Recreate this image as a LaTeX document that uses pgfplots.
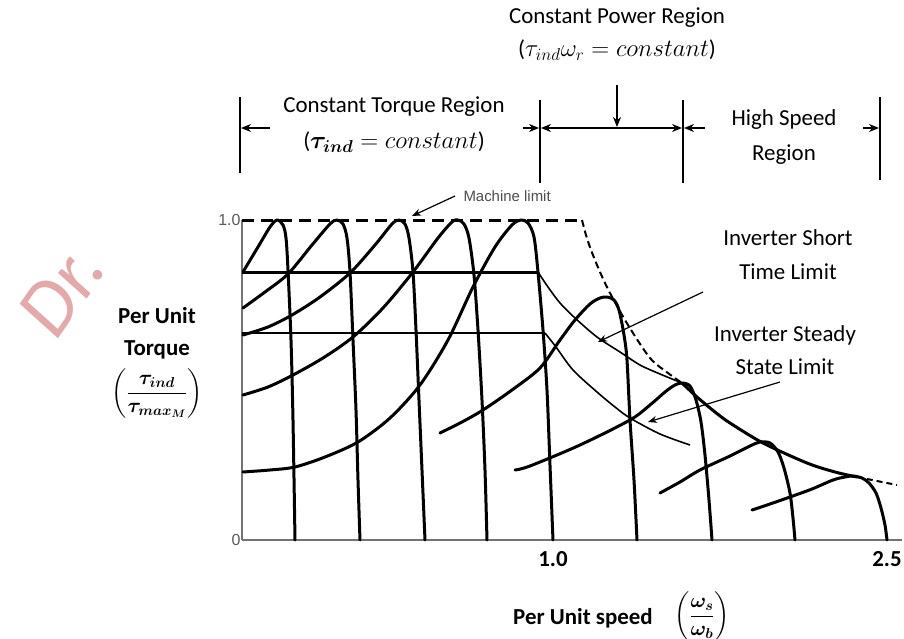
\documentclass[border=0pt]{standalone}
\usepackage{amsmath}
\usepackage{pgfplots}
\pgfplotsset{compat=1.18}
\usepackage{fontspec}
\setmainfont{Carlito}
\newfontfamily\arial{Liberation Sans}
\usetikzlibrary{arrows.meta}

\definecolor{wmark}{RGB}{228,170,170}
\tikzset{
  curve/.style={black, line width=3bp, smooth, tension=0.5, line cap=round, line join=round},
  thin curve/.style={black, line width=1.6bp, smooth, tension=0.5},
  note/.style={font=\fontsize{23}{27}\selectfont},
  arr/.style={line width=1.4bp, -{Stealth[length=10bp,width=8bp]}},
}

\begin{document}
\begin{tikzpicture}
% page = 904 x 639 bp, axis origin sits at pixel (242,540)
\useasboundingbox (-242bp,-99bp) rectangle (662bp,540bp);
\begin{axis}[
    at={(0,0)}, anchor=south west,
    x=1bp, y=1bp,
    xmin=242, xmax=902, ymin=0, ymax=320,
    axis x line*=bottom, axis y line*=left,
    axis line style={-, black!55, line width=1.6bp},
    clip=false,
    xtick={553,887}, xticklabels={1.0,2.5},
    ytick={0,320}, yticklabels={0,1.0},
    major tick length=0pt,
    xticklabel style={font=\fontsize{23}{23}\selectfont\bfseries, yshift=-8bp},
    yticklabel style={font=\arial\fontsize{16}{16}\selectfont, text=black!65, xshift=2bp},
  ]

% machine limit (dashed)
\addplot[black, line width=3bp, dash pattern=on 12bp off 7bp]
  coordinates {(242,320)(582,320)};
\addplot[black, line width=2bp, dash pattern=on 7bp off 4bp, smooth, tension=0.5]
  coordinates {(582,320)(586,305)(591,290)(600,268)(610,247)(628,215)(650,182)(668,167)(682,157)};
\addplot[black, line width=2bp, dash pattern=on 6bp off 4bp]
  coordinates {(857,63)(877,59)(897,55)};

% inverter limits
\addplot[black, line width=3bp] coordinates {(242,268)(538,268)};
\addplot[black, line width=1.6bp] coordinates {(242,207)(545,207)};
\addplot[thin curve] coordinates {(538,268)(548,253)(560,237)(575,222)(597,203)(620,188)(640,175)(660,166)(682,157)};
\addplot[thin curve] coordinates {(545,207)(556,193)(573,170)(597,148)(615,133)(630,122)(660,106)(690,95)};
\addplot[curve] coordinates {(682,157)(697,143)(715,128)(730,117)(763,97)(807,77)(835,68)(857,63)};

% torque-speed curves
\addplot[curve] coordinates {(243,268)(258,293)(270,313)(277,320)(283,315)(286,302)(288,270)(291,200)(293,120)(295,0)};
\addplot[curve] coordinates {(243,232)(265,248)(288,266)(312,295)(330,316)(337,320)(343,316)(347,302)(350,268)(353,200)(356,130)(358,60)(360,0)};
\addplot[curve] coordinates {(243,205)(268,213)(292,225)(320,243)(350,267)(375,295)(392,316)(399,320)(405,316)(409,302)(413,268)(416,210)(419,140)(422,70)(425,0)};
\addplot[curve] coordinates {(243,145)(268,153)(293,165)(323,182)(353,203)(383,232)(413,268)(438,302)(452,318)(458,320)(464,316)(469,302)(474,265)(478,210)(482,140)(485,70)(487,0)};
\addplot[curve] coordinates {(243,68)(270,70)(295,73)(325,83)(358,98)(390,122)(420,155)(448,200)(473,253)(495,293)(512,315)(521,320)(528,317)(534,303)(538,268)(543,210)(547,150)(550,75)(553,0)};
\addplot[curve] coordinates {(440,107)(462,118)(483,130)(512,150)(540,172)(560,200)(575,220)(590,236)(600,242)(607,243)(614,240)(619,230)(624,205)(627,180)(630,120)(634,60)(637,0)};
\addplot[curve] coordinates {(515,70)(530,74)(580,95)(630,120)(650,135)(665,148)(675,155)(682,157)(690,154)(696,140)(701,118)(705,85)(709,40)(712,0)};
\addplot[curve] coordinates {(660,47)(680,58)(700,70)(730,84)(750,94)(760,98)(770,97)(778,88)(784,72)(790,47)(793,22)(795,0)};
\addplot[curve] coordinates {(752,30)(770,36)(790,43)(812,51)(833,60)(845,63)(853,64)(862,62)(869,57)(876,47)(881,32)(885,15)(887,0)};

% region markers on top
\draw[line width=1.4bp] (240,443) -- (240,367);
\draw[line width=1.4bp] (540,440) -- (540,357);
\draw[line width=1.4bp] (683,440) -- (683,357);
\draw[line width=1.4bp] (880,443) -- (880,360);
\draw[arr] (270,412) -- (241,412);
\draw[arr] (523,412) -- (539,412);
\draw[line width=1.4bp, {Stealth[length=10bp,width=8bp]}-{Stealth[length=10bp,width=8bp]}] (541,412) -- (682,412);
\draw[arr] (617,455) -- (617,413);
\draw[arr] (705,412) -- (684,412);
\draw[arr] (863,412) -- (879,412);

\node[note] at (617,522) {Constant Power Region};
\node[note] at (617,490) {($\tau_{ind}\omega_r = constant$)};
\node[note] at (394,433) {Constant Torque Region};
\node[note] at (394,398) {($\boldsymbol{\tau_{ind}} = constant$)};
\node[note] at (784,420) {High Speed};
\node[note] at (784,385) {Region};
\node[note] at (788,302) {Inverter Short};
\node[note] at (788,268) {Time Limit};
\node[note] at (785,205) {Inverter Steady};
\node[note] at (785,173) {State Limit};

% pointers
\node[anchor=west, font=\arial\fontsize{15}{15}\selectfont, text=black!70] at (460,344) {Machine limit};
\draw[line width=1.2bp, -{Stealth[length=9bp,width=7bp]}] (455,344) -- (412,324);
\draw[line width=1.2bp, -{Stealth[length=9bp,width=7bp]}] (703,248) -- (598,198);
\draw[line width=1.2bp, -{Stealth[length=9bp,width=7bp]}] (780,158) -- (648,118);

% axis titles
\node[font=\fontsize{23}{23}\selectfont\bfseries] at (157,224) {Per Unit};
\node[font=\fontsize{23}{23}\selectfont\bfseries] at (157,190) {Torque};
\node[font=\fontsize{21}{21}\selectfont] at (157,147) {$\left(\dfrac{\boldsymbol{\tau_{ind}}}{\boldsymbol{\tau_{max_M}}}\right)$};
\node[font=\fontsize{23}{23}\selectfont\bfseries] at (583,-78) {Per Unit speed};
\node[font=\fontsize{20}{20}\selectfont] at (702,-76) {$\left(\dfrac{\boldsymbol{\omega_s}}{\boldsymbol{\omega_b}}\right)$};

% watermark
\node[rotate=55, text=wmark, font=\itshape\fontsize{80}{80}\selectfont] at (62,250) {Dr.};
\end{axis}
\end{tikzpicture}
\end{document}
